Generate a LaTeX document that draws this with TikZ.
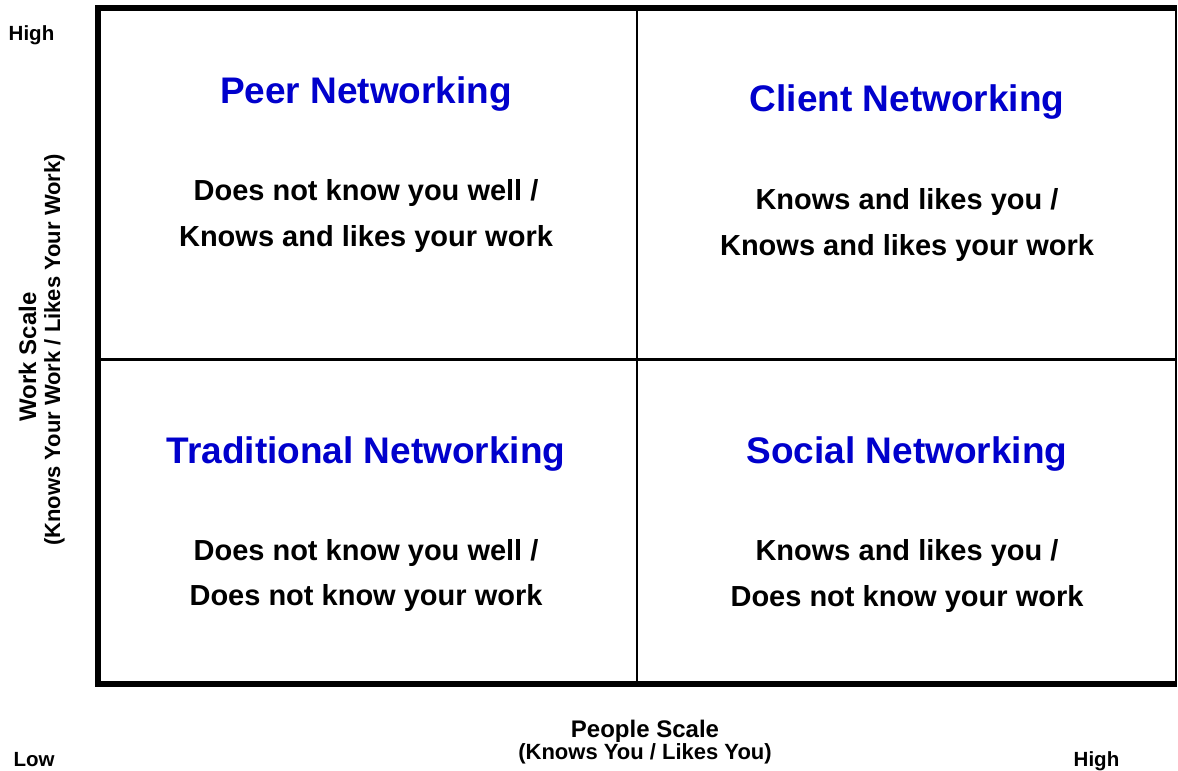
\documentclass[tikz,border=0pt]{standalone}
\usepackage{fontspec}
\setmainfont{Liberation Sans}
\definecolor{titleblue}{RGB}{0,0,204}
\begin{document}
\begin{tikzpicture}[x=1pt,y=-1pt,
  quadtitle/.style={font=\bfseries\fontsize{37}{40}\selectfont, text=titleblue, anchor=base, inner sep=0pt},
  quadtext/.style={font=\bfseries\fontsize{29}{32}\selectfont, anchor=base, inner sep=0pt},
  axistitle/.style={font=\bfseries\fontsize{24}{28}\selectfont, anchor=base, inner sep=0pt},
  axissub/.style={font=\bfseries\fontsize{22}{26}\selectfont, anchor=base, inner sep=0pt},
  endlabel/.style={font=\bfseries\fontsize{20.5}{24}\selectfont, anchor=base, inner sep=0pt},
  frame/.style={line width=5.5pt, line join=miter},
  divider/.style={line width=2.3pt}]
\path[use as bounding box] (0,0) rectangle (1178,771);

% corners of the grid
\coordinate (tl) at (98,8);
\coordinate (bl) at (98,684);
\coordinate (br) at (1175.8,684);
\coordinate (tr) at (1175.8,8);
\coordinate (midtop) at (636.7,8);
\coordinate (midbot) at (636.7,684);
\coordinate (midleft) at (98,359.5);
\coordinate (midright) at (1175.8,359.5);

% frame: heavy top, left and bottom, light right edge
\draw[frame] ([xshift=1pt]tr) -- (tl) -- (bl) -- ([xshift=1pt]br);
\draw[divider] (tr) -- (br);
% quadrant dividers
\draw[divider] (midtop) -- (midbot);
\draw[divider] (midleft) -- (midright);

% quadrant titles
\node[quadtitle] (peer)   at (366,103) {Peer Networking};
\node[quadtitle] (client) at (907,111) {Client Networking};
\node[quadtitle] (trad)   at (366,463) {Traditional Networking};
\node[quadtitle] (social) at (907,463) {Social Networking};

% quadrant descriptions
\node[quadtext] (peerA)   at (366,200)   {Does not know you well /};
\node[quadtext] (peerB)   at (366,246.5) {Knows and likes your work};
\node[quadtext] (clientA) at (907,209.5) {Knows and likes you /};
\node[quadtext] (clientB) at (907,255.5) {Knows and likes your work};
\node[quadtext] (tradA)   at (366,560)   {Does not know you well /};
\node[quadtext] (tradB)   at (366,605)   {Does not know your work};
\node[quadtext] (socialA) at (907,560)   {Knows and likes you /};
\node[quadtext] (socialB) at (907,606)   {Does not know your work};

% axis labels
\node[axistitle] (xtitle) at (645,737) {People Scale};
\node[axissub]   (xsub)   at (645,759) {(Knows You / Likes You)};
\node[axistitle, rotate=90] (ytitle) at (36,357) {Work Scale};
\node[axissub, rotate=90]   (ysub)   at (60,350) {(Knows Your Work / Likes Your Work)};

% scale ends
\node[endlabel] (yhigh) at (31.5,40)    {High};
\node[endlabel] (low)   at (34,766.7)   {Low};
\node[endlabel] (xhigh) at (1096.5,766.7) {High};
\end{tikzpicture}
\end{document}
